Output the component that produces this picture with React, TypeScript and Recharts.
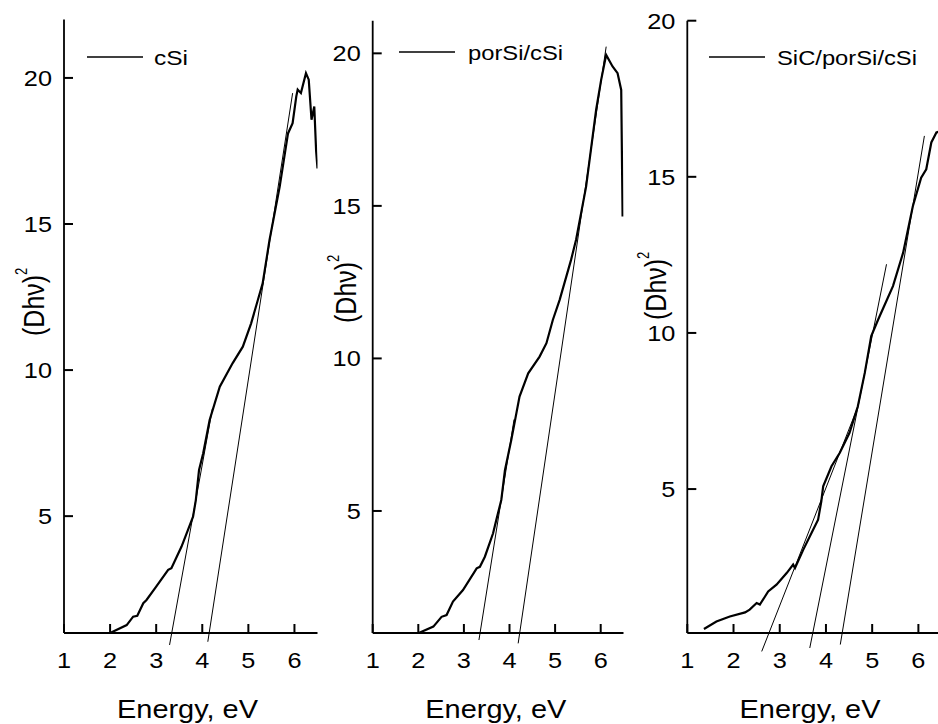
import React from 'react';
import { LineChart, Line, XAxis, YAxis, ReferenceLine, Legend, Label } from 'recharts';

const FONT = '"Liberation Sans", Arial, sans-serif';
const INK = '#000';

const energyTicks = [1, 2, 3, 4, 5, 6];
const valueTicks = [5, 10, 15, 20];

// cSi
const cSiEnergy = [2.0, 2.36, 2.5, 2.59, 2.72, 2.79, 3.0, 3.26, 3.33, 3.55, 3.69, 3.8, 3.86, 3.93, 4.02, 4.16, 4.38, 4.66, 4.88, 5.06, 5.31, 5.46, 5.68, 5.86, 5.96, 6.04, 6.07, 6.14, 6.25, 6.31, 6.37, 6.43, 6.47, 6.5];
const cSiValue = [1.0, 1.27, 1.56, 1.59, 2.02, 2.13, 2.59, 3.16, 3.22, 3.96, 4.53, 4.98, 5.55, 6.58, 7.15, 8.29, 9.43, 10.24, 10.8, 11.6, 12.97, 14.46, 16.28, 18.1, 18.45, 19.37, 19.6, 19.48, 20.16, 19.94, 18.57, 19.02, 17.5, 16.9];
// [e1, v1, e2, v2]
const cSiTangents = [[3.29, 0.59, 4.22, 8.68], [4.12, 0.7, 5.96, 19.48]];

// porSi/cSi
const porEnergy = [2.01, 2.33, 2.51, 2.62, 2.76, 2.98, 3.28, 3.35, 3.46, 3.64, 3.71, 3.82, 3.9, 4.04, 4.22, 4.41, 4.66, 4.81, 4.95, 5.1, 5.35, 5.46, 5.68, 5.9, 6.01, 6.12, 6.26, 6.37, 6.45, 6.48];
const porValue = [1.0, 1.21, 1.53, 1.59, 2.03, 2.41, 3.12, 3.17, 3.5, 4.27, 4.7, 5.36, 6.34, 7.33, 8.75, 9.51, 10.06, 10.5, 11.26, 11.92, 13.23, 13.89, 15.63, 18.15, 19.13, 19.95, 19.57, 19.35, 18.8, 14.65];
const porTangents = [[3.33, 0.77, 4.1, 8.0], [4.19, 0.66, 6.12, 20.22]];

// SiC/porSi/cSi
const sicEnergy = [1.36, 1.63, 1.92, 2.25, 2.35, 2.5, 2.57, 2.75, 2.93, 3.15, 3.29, 3.33, 3.51, 3.69, 3.83, 3.9, 3.94, 4.12, 4.3, 4.51, 4.69, 4.84, 4.98, 5.13, 5.45, 5.67, 5.88, 6.06, 6.17, 6.28, 6.39, 6.5];
const sicValue = [0.52, 0.76, 0.92, 1.05, 1.14, 1.35, 1.3, 1.72, 1.94, 2.31, 2.58, 2.47, 3.06, 3.6, 4.02, 4.61, 5.09, 5.73, 6.16, 6.8, 7.65, 8.72, 9.9, 10.43, 11.5, 12.57, 14.06, 14.97, 15.24, 16.1, 16.42, 16.47];
const sicTangents = [[2.61, -0.2, 4.68, 7.6], [3.65, -0.09, 5.31, 12.2], [4.31, 0.02, 6.13, 16.31]];

const toRows = (e: number[], v: number[]) => e.map((x, i) => ({ e: x, d: v[i] }));

const axisStyle = { stroke: INK, strokeWidth: 1.8 };
const X_GAP = 19; // axis line -> top of x tick label
const Y_GAP = 12; // axis line -> right edge of y tick label
const TICK = 9; // inward tick length
const STRETCH = 1.15; // source figure is a bit wider than tall

// draws the inward tick mark itself, then the label
const XTick = (props: any) => {
  const { x, y, payload } = props;
  const axisY = Number(y) - X_GAP;
  return (
    <g>
      <line x1={x} x2={x} y1={axisY} y2={axisY - TICK} stroke={INK} strokeWidth={2} />
      <g transform={`translate(${x},${y})`}>
        <text transform={`scale(${STRETCH},1)`} textAnchor="middle" dy="0.72em" fontSize={22} fontFamily={FONT} fill={INK}>
          {payload.value}
        </text>
      </g>
    </g>
  );
};

const YTick = (props: any) => {
  const { x, y, payload } = props;
  const axisX = Number(x) + Y_GAP;
  return (
    <g>
      <line x1={axisX} x2={axisX + TICK} y1={y} y2={y} stroke={INK} strokeWidth={2} />
      <g transform={`translate(${x},${y})`}>
        <text transform={`scale(${STRETCH},1)`} textAnchor="end" dy="0.36em" fontSize={22} fontFamily={FONT} fill={INK}>
          {payload.value}
        </text>
      </g>
    </g>
  );
};

type PanelProps = {
  name: string;
  energy: number[];
  value: number[];
  tangents: number[][];
  left: number;
  width: number;
  axisW: number;
  top: number;
  yDomain: [number, number];
  legendLeft: number;
  legendTop: number;
  textX: number;
  textLen: number;
  titleX: number;
  yTitleX: number;
  yTitleY: number;
};

function Panel(p: PanelProps) {
  const rows = toRows(p.energy, p.value);
  return (
    <div style={{ position: 'absolute', left: p.left, top: 0 }}>
      <LineChart width={p.width} height={724} margin={{ top: p.top, right: 2.5, bottom: 0, left: 0 }}>
        <XAxis
          type="number"
          dataKey="e"
          domain={[1, 6.5]}
          ticks={energyTicks}
          allowDataOverflow
          height={91}
          tickSize={0}
          tickMargin={X_GAP}
          tick={XTick}
          axisLine={axisStyle}
          tickLine={false}
        >
          <Label
            content={() => (
              <text x={p.titleX} y={718} textAnchor="middle" fontSize={25.5} fontFamily={FONT} fill={INK}
                textLength={141} lengthAdjust="spacingAndGlyphs">
                Energy, eV
              </text>
            )}
          />
        </XAxis>
        <XAxis xAxisId="top" orientation="top" type="number" domain={[1, 6.5]} allowDataOverflow height={0}
          tick={false} tickLine={false} axisLine={axisStyle} />
        <YAxis
          type="number"
          domain={p.yDomain}
          ticks={valueTicks}
          allowDataOverflow
          width={p.axisW}
          tickSize={0}
          tickMargin={Y_GAP}
          tick={YTick}
          axisLine={axisStyle}
          tickLine={false}
        >
          <Label
            content={() => (
              <text transform={`translate(${p.yTitleX},${p.yTitleY}) scale(1.2,1) rotate(-90)`}
                fontSize={25} fontFamily={FONT} fill={INK}>
                (Dhν)<tspan fontSize={13} dy={-14}>2</tspan>
              </text>
            )}
          />
        </YAxis>
        <YAxis yAxisId="right" orientation="right" type="number" domain={p.yDomain} allowDataOverflow width={0}
          tick={false} tickLine={false} axisLine={axisStyle} />
        {p.tangents.map((t, i) => (
          <ReferenceLine key={i} segment={[{ x: t[0], y: t[1] }, { x: t[2], y: t[3] }]}
            stroke={INK} strokeWidth={1} ifOverflow="visible" />
        ))}
        <Line data={rows} dataKey="d" name={p.name} type="linear" stroke={INK} strokeWidth={2.2}
          dot={false} activeDot={false} isAnimationActive={false} />
        <Legend
          layout="vertical"
          align="center"
          verticalAlign="middle"
          wrapperStyle={{ left: p.legendLeft, top: p.legendTop, width: 'auto', height: 'auto' }}
          content={(lp: any) => (
            <svg width={p.textX + p.textLen + 10} height={30} style={{ display: 'block' }}>
              <line x1={0} x2={56} y1={15} y2={15} stroke={INK} strokeWidth={1.5} />
              <text x={p.textX} y={15} dy="0.36em" fontSize={21} fontFamily={FONT} fill={INK}
                textLength={p.textLen} lengthAdjust="spacingAndGlyphs">
                {lp.payload?.[0]?.value ?? p.name}
              </text>
            </svg>
          )}
        />
      </LineChart>
    </div>
  );
}

export default function App() {
  return (
    <div style={{ position: 'absolute', left: 0, top: 0, width: 938, height: 724, overflow: 'hidden', background: '#fff' }}>
      <Panel name="cSi" energy={cSiEnergy} value={cSiValue} tangents={cSiTangents}
        left={0} width={320} axisW={64} top={19.5} yDomain={[1, 22]}
        legendLeft={87} legendTop={41.7} textX={67} textLen={34}
        titleX={187.5} yTitleX={44} yTitleY={336} />
      <Panel name="porSi/cSi" energy={porEnergy} value={porValue} tangents={porTangents}
        left={320} width={306} axisW={52.7} top={20.7} yDomain={[1, 21.07]}
        legendLeft={79} legendTop={36.7} textX={69} textLen={95}
        titleX={175.8} yTitleX={36} yTitleY={323} />
      <Panel name="SiC/porSi/cSi" energy={sicEnergy} value={sicValue} tangents={sicTangents}
        left={630} width={314} axisW={57.3} top={20.7} yDomain={[0.39, 20]}
        legendLeft={79} legendTop={41.7} textX={68} textLen={140}
        titleX={180} yTitleX={36} yTitleY={320} />
    </div>
  );
}
